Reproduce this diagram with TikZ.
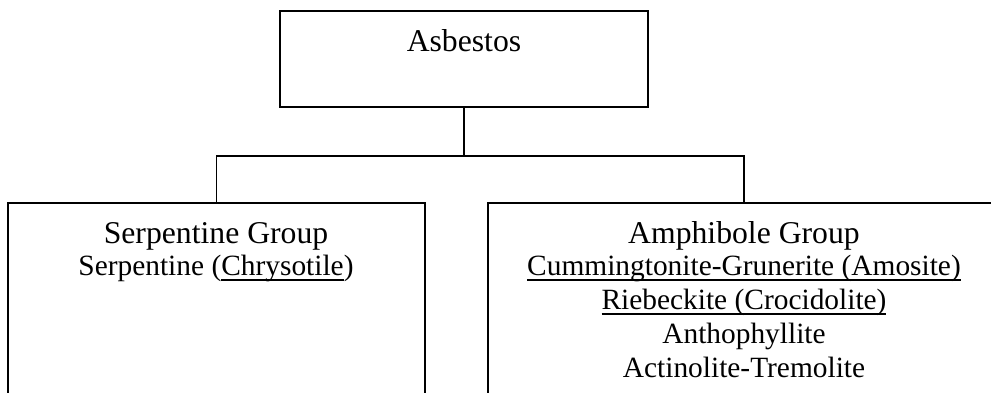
\documentclass[tikz,border=0pt]{standalone}
\usepackage{fontspec}
\setmainfont{Liberation Serif}
\usetikzlibrary{positioning}
\newsavebox{\ulinebox}
\newcommand{\ulinetext}[1]{\sbox{\ulinebox}{#1}%
  \rlap{\rule[-5.5pt]{\wd\ulinebox}{1.6pt}}\usebox{\ulinebox}}
\begin{document}
\begin{tikzpicture}[
  x=1pt, y=-1pt,
  every node/.style={inner sep=0pt},
  groupbox/.style={draw, line width=1.8pt},
  topbox/.style={draw, line width=1.8pt, minimum width=368pt,
                 text height=40pt, text depth=56pt, font=\fontsize{31.7}{38}\selectfont},
  head/.style={anchor=base, font=\fontsize{31.7}{38}\selectfont},
  item/.style={anchor=base, font=\fontsize{29.4}{34}\selectfont},
  link/.style={line width=1.8pt},
]
\useasboundingbox (0,0) rectangle (991,392);
\clip (0,0) rectangle (991,392);

% Root
\node[topbox] (asbestos) at (464,59) {Asbestos};

% Groups
\node[groupbox, minimum width=417pt, minimum height=240pt] (serp) at (216.5,323) {};
\node[groupbox, minimum width=512pt, minimum height=240pt] (amph) at (744,323) {};

% Connectors
\coordinate[below=48pt of asbestos.south] (split);
\draw[link] (asbestos.south) -- (split);
\draw[link] (serp.north) |- (split) -| (amph.north);

% Serpentine text
\node[head] (serpHead) at (216,243) {Serpentine Group};
\node[item] (serp1) at (216,275) {Serpentine (\ulinetext{Chrysotile})};

% Amphibole text
\node[head] (amphHead) at (744,243) {Amphibole Group};
\foreach \txt [count=\i] in {{\ulinetext{Cummingtonite-Grunerite (Amosite)}},
                            {\ulinetext{Riebeckite (Crocidolite)}},
                            Anthophyllite, Actinolite-Tremolite}
  \node[item] (amph\i) at (744,{241+34*\i}) {\txt};

\end{tikzpicture}
\end{document}
